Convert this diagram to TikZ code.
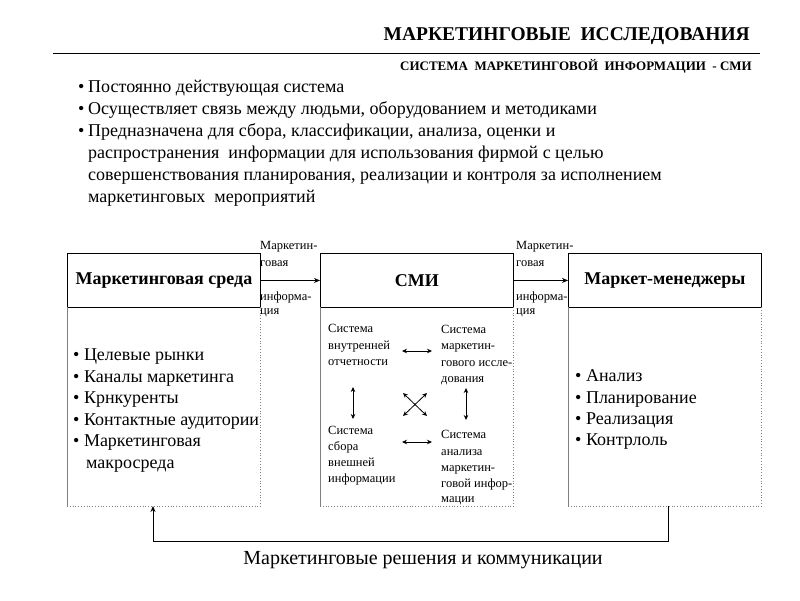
\documentclass[tikz,border=0pt]{standalone}
\usepackage{fontspec}
\setmainfont{Liberation Serif}
\usetikzlibrary{arrows.meta}
\begin{document}
\begin{tikzpicture}[x=1pt,y=-1pt,
  hdr/.style={draw=black, line width=0.9pt, minimum width=193pt, minimum height=54pt, anchor=north west, inner sep=0pt, font=\fontsize{18}{21}\selectfont\bfseries},
  lowbox/.style={draw=none, minimum width=193pt, minimum height=199pt, anchor=north west, inner sep=0pt},
  txt/.style={anchor=base west, inner sep=0pt, font=\fontsize{18}{21}\selectfont},
  sml/.style={anchor=base west, inner sep=0pt, font=\fontsize{12.5}{15}\selectfont},
  arr/.style={-{Stealth[length=6pt,width=5pt]}, line width=0.8pt},
  darr/.style={{Stealth[length=5pt,width=4.5pt]}-{Stealth[length=5pt,width=4.5pt]}, line width=0.8pt},
  solidedge/.style={draw=gray, line width=0.6pt},
  dotedge/.style={draw=gray, line width=0.8pt, dotted}
]
\useasboundingbox (0,0) rectangle (800,600);
% title
\node[anchor=base east, inner sep=0pt, font=\fontsize{19.5}{23}\selectfont\bfseries] (title) at (750,40) {МАРКЕТИНГОВЫЕ\ \ ИССЛЕДОВАНИЯ};
\coordinate (tl) at (53,53);
\coordinate (tr) at (760,53);
\draw[line width=0.8pt] (tl) -- (tr);
\node[anchor=base east, inner sep=0pt, font=\fontsize{13}{15}\selectfont\bfseries] (sub) at (752,70) {СИСТЕМА\ \ МАРКЕТИНГОВОЙ\ \ ИНФОРМАЦИИ\ \ - СМИ};
% bullets
\node[txt] (bu1) at (78,92) {•};
\node[txt] (t1) at (88,92) {Постоянно действующая система};
\node[txt] (bu2) at (78,114) {•};
\node[txt] (t2) at (88,114) {Осуществляет связь между людьми, оборудованием и методиками};
\node[txt] (bu3) at (78,136) {•};
\node[txt] (t3) at (88,136) {Предназначена для сбора, классификации, анализа, оценки и};
\node[txt] (t4) at (88,158) {распространения\ \ информации для использования фирмой с целью};
\node[txt] (t5) at (88,180) {совершенствования планирования, реализации и контроля за исполнением};
\node[txt] (t6) at (88,202) {маркетинговых\ \ мероприятий};
% headers
\node[hdr] (h1) at (67,253) {Маркетинговая среда};
\node[hdr] (h2) at (320,253) {СМИ};
\node[hdr] (h3) at (568,253) {Маркет-менеджеры};
% lower boxes
\node[lowbox] (b1) at (67,307) {};
\node[lowbox] (b2) at (320,307) {};
\node[lowbox] (b3) at (568,307) {};
\foreach \b in {b1,b2,b3}{
  \draw[solidedge] (\b.north west) -- (\b.south west);
  \draw[dotedge] (\b.south west) -- (\b.south east) -- (\b.north east);
}
% arrows between headers
\draw[arr] (h1.east) -- (h2.west);
\draw[arr] (h2.east) -- (h3.west);
\node[sml] (l1a) at (260,249) {Маркетин-};
\node[sml] (l1b) at (260,266) {говая};
\node[sml] (l1c) at (260,300) {информа-};
\node[sml] (l1d) at (260,314) {ция};
\node[sml] (l2a) at (516,249) {Маркетин-};
\node[sml] (l2b) at (516,266) {говая};
\node[sml] (l2c) at (516,300) {информа-};
\node[sml] (l2d) at (516,314) {ция};
% left list
\node[txt] (a1) at (73,360) {• Целевые рынки};
\node[txt] (a2) at (73,382) {• Каналы маркетинга};
\node[txt] (a3) at (73,403) {• Крнкуренты};
\node[txt] (a4) at (73,425) {• Контактные аудитории};
\node[txt] (a5) at (73,446) {• Маркетинговая};
\node[txt] (a6) at (86,468) {макросреда};
% right list
\node[txt] (c1) at (575,381) {• Анализ};
\node[txt] (c2) at (575,403) {• Планирование};
\node[txt] (c3) at (575,424) {• Реализация};
\node[txt] (c4) at (575,445) {• Контрлоль};
% SMI inner
\node[sml] (s1a) at (328,332) {Система};
\node[sml] (s1b) at (328,349) {внутренней};
\node[sml] (s1c) at (328,365) {отчетности};
\node[sml] (s2a) at (441,333) {Система};
\node[sml] (s2b) at (441,349) {маркетин-};
\node[sml] (s2c) at (441,366) {гового иссле-};
\node[sml] (s2d) at (441,382) {дования};
\node[sml] (s3a) at (328,434) {Система};
\node[sml] (s3b) at (328,450) {сбора};
\node[sml] (s3c) at (328,466) {внешней};
\node[sml] (s3d) at (328,482) {информации};
\node[sml] (s4a) at (441,438) {Система};
\node[sml] (s4b) at (441,455) {анализа};
\node[sml] (s4c) at (441,471) {маркетин-};
\node[sml] (s4d) at (441,487) {говой инфор-};
\node[sml] (s4e) at (441,502) {мации};
% small arrows
\coordinate (p1) at (402,351); \coordinate (p2) at (432,351);
\coordinate (p3) at (353,387); \coordinate (p4) at (353,419);
\coordinate (p5) at (466,388); \coordinate (p6) at (466,420);
\coordinate (p7) at (402,442); \coordinate (p8) at (432,442);
\coordinate (q1) at (403,393); \coordinate (q2) at (427,416);
\coordinate (q3) at (427,393); \coordinate (q4) at (403,416);
\draw[darr] (p1) -- (p2);
\draw[darr] (p3) -- (p4);
\draw[darr] (p5) -- (p6);
\draw[darr] (p7) -- (p8);
\draw[darr] (q1) -- (q2);
\draw[darr] (q3) -- (q4);
% feedback
\coordinate (f1) at (668,506);
\coordinate (f2) at (153,506);
\draw[arr] (f1) -- (668,541) -- (153,541) -- (f2);
\node[anchor=base, inner sep=0pt, font=\fontsize{20}{24}\selectfont] (fb) at (423,564) {Маркетинговые решения и коммуникации};
\end{tikzpicture}
\end{document}
